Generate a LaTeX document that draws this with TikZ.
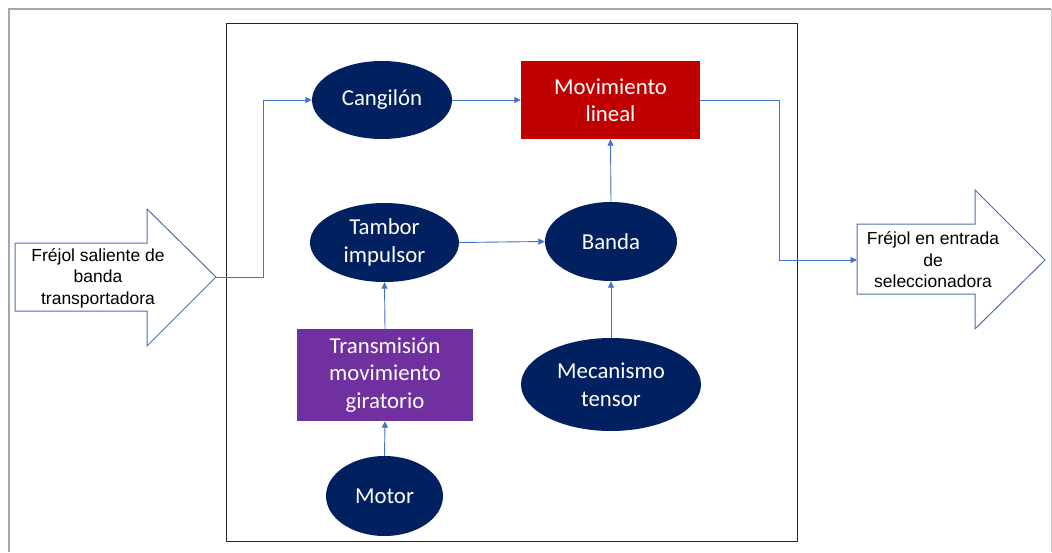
\documentclass[tikz,border=0pt]{standalone}
\usepackage{fontspec}
\setmainfont{Liberation Sans}
\newfontfamily\carl{Carlito}
\usetikzlibrary{shapes.geometric,arrows.meta}
\definecolor{navy}{HTML}{002060}
\definecolor{dred}{HTML}{C00000}
\definecolor{purp}{HTML}{7030A0}
\definecolor{conn}{HTML}{4472C4}
\definecolor{arrowline}{HTML}{4F71A8}
\begin{document}
\begin{tikzpicture}[x=1pt,y=-1pt,
  oval/.style={ellipse, fill=navy, draw=none, inner sep=0pt, text=white, align=center, font=\carl\fontsize{22.8}{27.5}\selectfont},
  boxn/.style={rectangle, draw=none, inner sep=0pt, text=white, align=center, font=\carl\fontsize{22.8}{27.5}\selectfont},
  flow/.style={draw=conn, line width=0.9pt, -{Triangle[length=6.5pt,width=6pt]}},
  bigarrow/.style={draw=arrowline, line width=1pt, fill=white, line join=miter},
  atext/.style={align=center, font=\fontsize{17.5}{21.5}\selectfont}]
\useasboundingbox (0,0) rectangle (1052,552);
% outer frame
\draw[black!35, line width=2pt] (9,552) -- (9,9) -- (1051,9);
\draw[black!22, line width=1pt] (1051,9) -- (1051,552);
% inner box
\draw[black!85, line width=1pt] (226,23) rectangle (797,541);
% big arrows
\draw[bigarrow] (15,243) -- (147,243) -- (147,209) -- (216,277) -- (147,346) -- (147,311) -- (15,311) -- cycle;
\coordinate (inTip) at (216,277);
\node[atext] (intext) at (98,278) {Fréjol saliente de\\banda\\transportadora};
\draw[bigarrow] (857,224) -- (975,224) -- (975,190) -- (1045,260) -- (975,329) -- (975,294) -- (857,294) -- cycle;
\coordinate (outIn) at (857,260);
\node[atext] (outtext) at (933,260) {Fréjol en entrada\\de\\seleccionadora};
% nodes
\node[oval, minimum width=140pt, minimum height=78pt] (cang) at (382,100) {Cangilón};
\node[boxn, fill=dred, minimum width=179pt, minimum height=78pt] (mov) at (610.5,100) {Movimiento\\lineal};
\node[oval, minimum width=149pt, minimum height=79pt] (tamb) at (384.5,242.5) {Tambor\\impulsor};
\node[oval, minimum width=132pt, minimum height=79pt] (banda) at (611,241.5) {Banda};
\node[boxn, fill=purp, minimum width=176pt, minimum height=92pt] (trans) at (385,375) {Transmisión\\movimiento\\giratorio};
\node[oval, minimum width=180pt, minimum height=93pt] (mec) at (611,384.5) {Mecanismo\\tensor};
\node[oval, minimum width=117pt, minimum height=80pt] (motor) at (384.5,496) {Motor};
% connectors
\coordinate (lbend) at (263,0);
\coordinate (rbend) at (779,0);
\draw[flow] (inTip) -| (lbend |- cang.west) -- (cang.west);
\draw[flow] (cang.east) -- (mov.west);
\draw[flow] (mov.east) -| (rbend |- outIn) -- (outIn);
\draw[flow] (tamb.east) -- (banda.west);
\draw[flow] (banda.north) -- (mov.south);
\draw[flow] (mec.north) -- (banda.south);
\draw[flow] (trans.north) -- (tamb.south);
\draw[flow] (motor.north) -- (trans.south);
\end{tikzpicture}
\end{document}
